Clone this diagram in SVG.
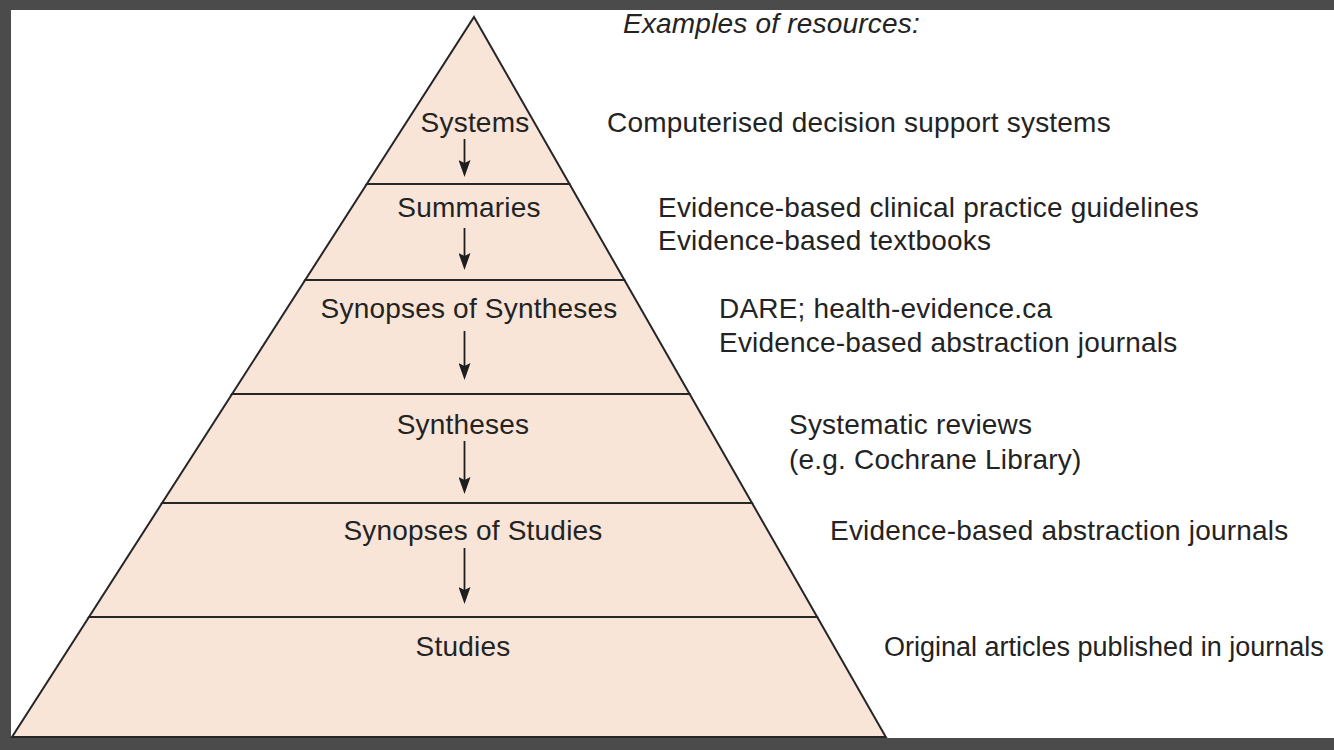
<svg xmlns="http://www.w3.org/2000/svg" width="1334" height="750" viewBox="0 0 1334 750">
<style>
.tier{fill:#f8e5d8;stroke:#262626;stroke-width:2;stroke-linejoin:miter}
.lbl{font-family:"Liberation Sans",Arial,sans-serif;font-size:28px;letter-spacing:0.2px;fill:#232323}
.c{text-anchor:middle}
.res{font-family:"Liberation Sans",Arial,sans-serif;font-size:28px;letter-spacing:0.2px;fill:#232323}
.conn{stroke:#1e1e1e;stroke-width:1.8;fill:none}
</style>
<defs>
<marker id="ah" markerUnits="userSpaceOnUse" viewBox="0 0 17 12" markerWidth="17" markerHeight="12" refX="9" refY="6" orient="auto">
<path d="M0,0 L17,6 L0,12 L3,6 z" fill="#1e1e1e"/>
</marker>
</defs>
<rect x="0" y="0" width="1334" height="750" fill="#ffffff"/>
<rect x="0" y="0" width="1334" height="10" fill="#4b4b4b"/>
<rect x="0" y="0" width="11" height="750" fill="#4b4b4b"/>
<rect x="0" y="738" width="1334" height="12" fill="#4b4b4b"/>
<g id="systems">
<polygon class="tier" points="474,17 569.5,184 366.8,184"/>
<text class="lbl c" x="475" y="132">Systems</text>
</g>
<g id="summaries">
<polygon class="tier" points="366.8,184 569.5,184 624.4,280 305.2,280"/>
<text class="lbl c" x="469" y="217">Summaries</text>
</g>
<g id="synopses-of-syntheses">
<polygon class="tier" points="305.2,280 624.4,280 689.6,394 232.1,394"/>
<text class="lbl c" x="469" y="318">Synopses of Syntheses</text>
</g>
<g id="syntheses">
<polygon class="tier" points="232.1,394 689.6,394 752,503 162.1,503"/>
<text class="lbl c" x="463" y="434">Syntheses</text>
</g>
<g id="synopses-of-studies">
<polygon class="tier" points="162.1,503 752,503 817.2,617 89,617"/>
<text class="lbl c" x="473" y="540">Synopses of Studies</text>
</g>
<g id="studies">
<polygon class="tier" points="89,617 817.2,617 885.8,737 12,737"/>
<text class="lbl c" x="463" y="656">Studies</text>
</g>
<g id="connectors">
<line class="conn" x1="464.5" y1="139" x2="464.5" y2="169" marker-end="url(#ah)"/>
<line class="conn" x1="464.5" y1="228" x2="464.5" y2="262" marker-end="url(#ah)"/>
<line class="conn" x1="464.5" y1="331" x2="464.5" y2="372" marker-end="url(#ah)"/>
<line class="conn" x1="464.5" y1="441" x2="464.5" y2="486" marker-end="url(#ah)"/>
<line class="conn" x1="464.5" y1="548" x2="464.5" y2="596" marker-end="url(#ah)"/>
</g>
<g id="resources">
<text class="res" x="623" y="33" font-style="italic">Examples of resources:</text>
<text class="res" x="607" y="132">Computerised decision support systems</text>
<text class="res" x="658" y="217">Evidence-based clinical practice guidelines</text>
<text class="res" x="658" y="250">Evidence-based textbooks</text>
<text class="res" x="719" y="318">DARE; health-evidence.ca</text>
<text class="res" x="719" y="352">Evidence-based abstraction journals</text>
<text class="res" x="789" y="434">Systematic reviews</text>
<text class="res" x="789" y="469">(e.g. Cochrane Library)</text>
<text class="res" x="830" y="540">Evidence-based abstraction journals</text>
<text class="res" x="884" y="656" style="letter-spacing:0;font-size:27px">Original articles published in journals</text>
</g>
</svg>
